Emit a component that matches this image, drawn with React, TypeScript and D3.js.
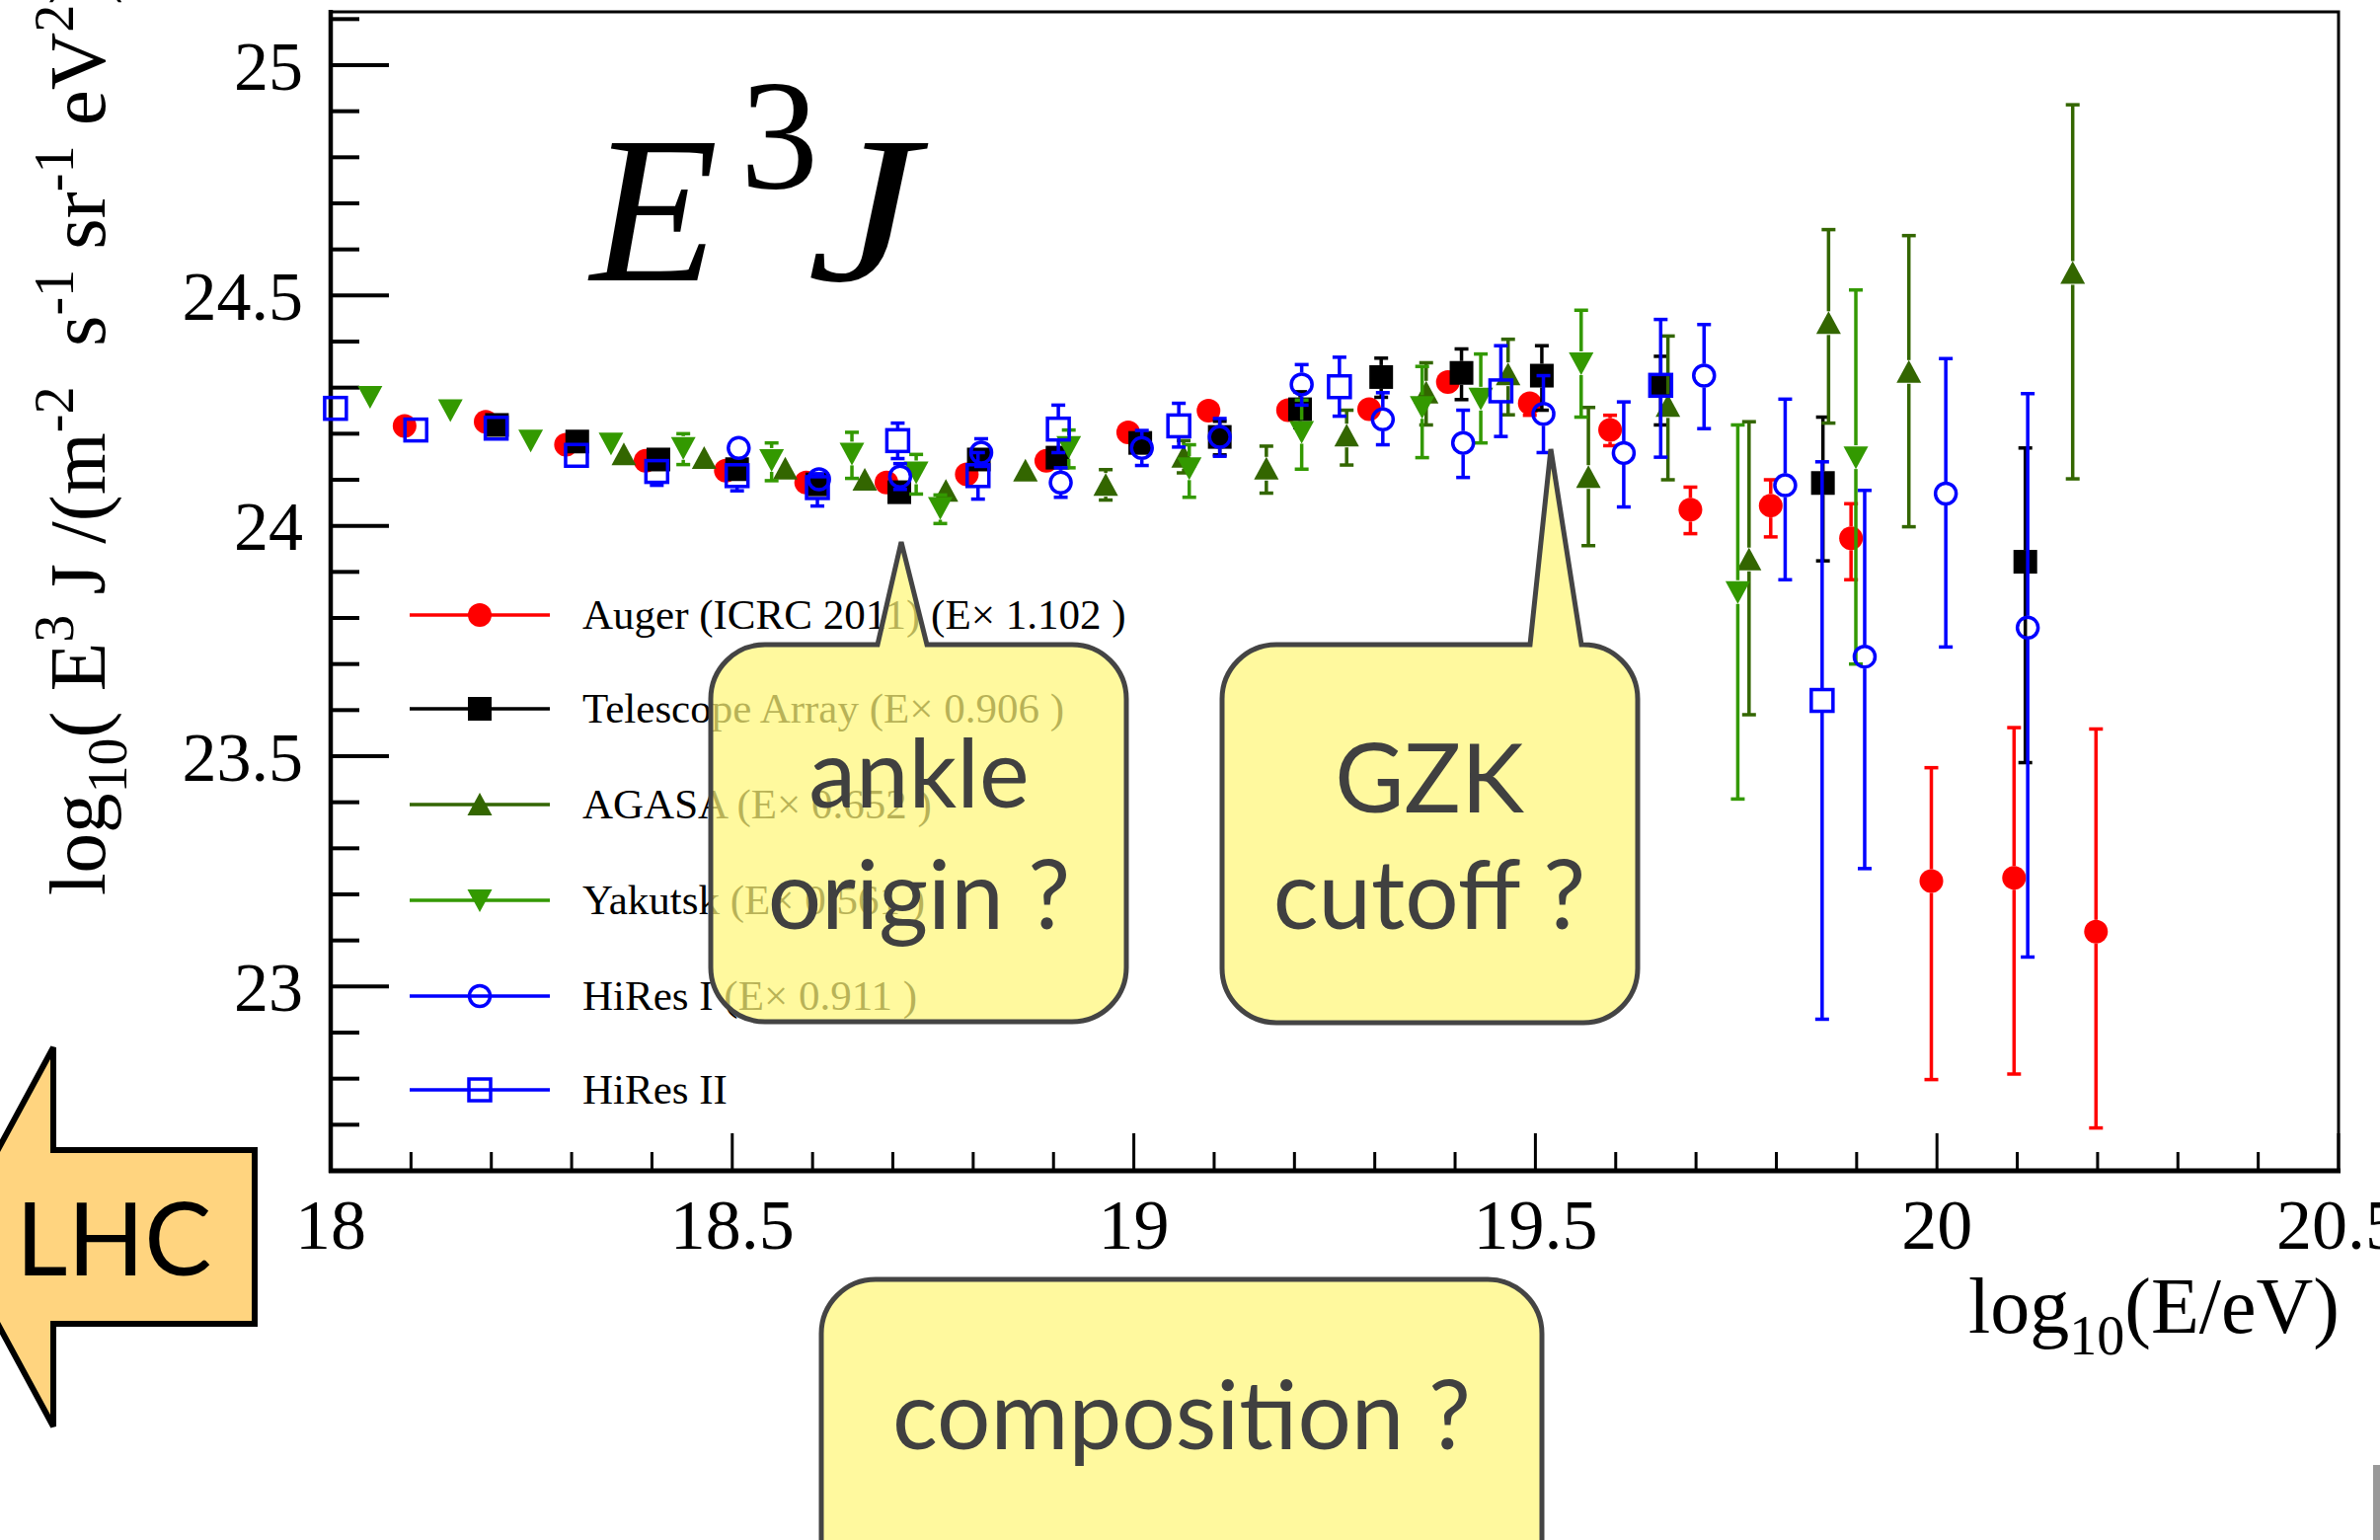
import React from 'react';
import * as d3 from 'd3';

// [log10(E/eV), log10(E^3 J), errDown, errUp]
const auger = [
  [18.092, 24.217, 0.008, 0.008], [18.193, 24.226, 0.008, 0.008], [18.293, 24.176, 0.008, 0.008],
  [18.392, 24.141, 0.008, 0.008], [18.492, 24.12, 0.008, 0.008], [18.592, 24.094, 0.009, 0.009],
  [18.692, 24.094, 0.01, 0.01], [18.792, 24.112, 0.011, 0.011], [18.891, 24.141, 0.012, 0.012],
  [18.993, 24.203, 0.013, 0.013], [19.093, 24.25, 0.015, 0.015], [19.192, 24.251, 0.017, 0.017],
  [19.293, 24.253, 0.019, 0.019], [19.391, 24.312, 0.022, 0.021], [19.493, 24.266, 0.026, 0.025],
  [19.593, 24.208, 0.034, 0.032], [19.693, 24.035, 0.052, 0.049], [19.793, 24.044, 0.068, 0.056],
  [19.893, 23.973, 0.09, 0.075], [19.993, 23.229, 0.431, 0.246], [20.096, 23.236, 0.426, 0.326],
  [20.198, 23.119, 0.426, 0.44],
];

const telescopeArray = [
  [18.207, 24.219, 0.008, 0.008], [18.307, 24.183, 0.008, 0.008], [18.408, 24.144, 0.009, 0.009],
  [18.506, 24.123, 0.01, 0.01], [18.606, 24.09, 0.011, 0.011], [18.708, 24.073, 0.012, 0.012],
  [18.807, 24.144, 0.014, 0.014], [18.905, 24.148, 0.016, 0.016], [19.008, 24.18, 0.02, 0.02],
  [19.107, 24.193, 0.039, 0.034], [19.207, 24.253, 0.04, 0.038], [19.308, 24.323, 0.044, 0.041],
  [19.408, 24.332, 0.058, 0.052], [19.508, 24.326, 0.075, 0.065], [19.656, 24.305, 0.086, 0.063],
  [19.858, 24.093, 0.169, 0.143], [20.11, 23.922, 0.436, 0.247],
];

const agasa = [
  [18.365, 24.155, 0.01, 0.01], [18.465, 24.147, 0.01, 0.01], [18.566, 24.124, 0.012, 0.012],
  [18.665, 24.1, 0.014, 0.014], [18.766, 24.076, 0.018, 0.018], [18.865, 24.12, 0.022, 0.022],
  [18.965, 24.089, 0.033, 0.033], [19.062, 24.15, 0.035, 0.035], [19.165, 24.124, 0.053, 0.049],
  [19.265, 24.196, 0.064, 0.055], [19.364, 24.289, 0.07, 0.065], [19.466, 24.329, 0.088, 0.076],
  [19.566, 24.106, 0.149, 0.151], [19.665, 24.26, 0.16, 0.152], [19.766, 23.927, 0.337, 0.299],
  [19.865, 24.44, 0.217, 0.203], [19.965, 24.334, 0.336, 0.296], [20.169, 24.549, 0.447, 0.365],
];

const yakutsk = [
  [18.049, 24.28, 0.008, 0.008], [18.149, 24.251, 0.008, 0.008], [18.249, 24.185, 0.009, 0.009],
  [18.349, 24.179, 0.01, 0.01], [18.439, 24.169, 0.036, 0.031], [18.549, 24.143, 0.045, 0.037],
  [18.649, 24.157, 0.054, 0.046], [18.729, 24.116, 0.047, 0.039], [18.759, 24.039, 0.034, 0.028],
  [18.919, 24.171, 0.045, 0.037], [19.069, 24.125, 0.063, 0.051], [19.209, 24.204, 0.081, 0.069],
  [19.359, 24.258, 0.11, 0.088], [19.432, 24.276, 0.096, 0.097], [19.557, 24.353, 0.117, 0.115],
  [19.752, 23.856, 0.449, 0.363], [19.899, 24.149, 0.449, 0.363],
];

const hiresI = [
  [18.508, 24.169, 0.015, 0.015], [18.608, 24.101, 0.02, 0.02], [18.709, 24.107, 0.028, 0.028],
  [18.81, 24.159, 0.03, 0.03], [18.909, 24.094, 0.032, 0.032], [19.01, 24.169, 0.038, 0.038],
  [19.107, 24.193, 0.042, 0.04], [19.209, 24.307, 0.045, 0.043], [19.31, 24.231, 0.055, 0.058],
  [19.41, 24.18, 0.075, 0.071], [19.51, 24.243, 0.084, 0.083], [19.61, 24.158, 0.117, 0.111],
  [19.71, 24.326, 0.115, 0.111], [19.811, 24.088, 0.205, 0.187], [19.91, 23.716, 0.46, 0.361],
  [20.011, 24.07, 0.333, 0.293], [20.113, 23.779, 0.715, 0.508],
];

const hiresII = [
  [18.006, 24.255, 0.012, 0.012], [18.106, 24.208, 0.014, 0.014], [18.206, 24.212, 0.016, 0.016],
  [18.306, 24.153, 0.02, 0.02], [18.406, 24.118, 0.03, 0.022], [18.506, 24.109, 0.033, 0.025],
  [18.606, 24.083, 0.04, 0.03], [18.706, 24.185, 0.039, 0.038], [18.806, 24.109, 0.051, 0.05],
  [18.906, 24.21, 0.051, 0.052], [19.056, 24.217, 0.046, 0.049], [19.256, 24.302, 0.064, 0.064],
  [19.457, 24.293, 0.099, 0.098], [19.656, 24.305, 0.156, 0.143], [19.857, 23.621, 0.692, 0.518],
];

const series = [
  { label: 'Auger (ICRC 2011) (E\u00d7 1.102 )', data: auger, color: '#ff0000', marker: 'circle' },
  { label: 'Telescope Array (E\u00d7 0.906 )', data: telescopeArray, color: '#000000', marker: 'square' },
  { label: 'AGASA (E\u00d7 0.652 )', data: agasa, color: '#336600', marker: 'up' },
  { label: 'Yakutsk (E\u00d7 0.561 )', data: yakutsk, color: '#339900', marker: 'down' },
  { label: 'HiRes I (E\u00d7 0.911 )', data: hiresI, color: '#0000ff', marker: 'opencircle' },
  { label: 'HiRes II', data: hiresII, color: '#0000ff', marker: 'opensquare' },
];

const xMajor = [18, 18.5, 19, 19.5, 20, 20.5];
const xMajorLabels = ['18', '18.5', '19', '19.5', '20', '20.5'];
const yMajor = [23, 23.5, 24, 24.5, 25];
const yMajorLabels = ['23', '23.5', '24', '24.5', '25'];

const W = 2411;
const H = 1560;
const serif = '"Liberation Serif", "Times New Roman", serif';
const sans = 'Lato, "Open Sans", sans-serif';

const x = d3.scaleLinear().domain([18, 20.5]).range([335, 2369]);
const y = d3.scaleLinear().domain([22.6, 25.12]).range([1186, 10]);

const HALF = 12;

function Marker({ type, cx, cy, color }) {
  if (type === 'circle') return <circle cx={cx} cy={cy} r={12} fill={color} />;
  if (type === 'square') return <rect x={cx - 12} y={cy - 12} width={24} height={24} fill={color} />;
  if (type === 'up')
    return <polygon points={`${cx},${cy - 12} ${cx + 12.5},${cy + 11} ${cx - 12.5},${cy + 11}`} fill={color} />;
  if (type === 'down')
    return <polygon points={`${cx},${cy + 12} ${cx + 12.5},${cy - 11} ${cx - 12.5},${cy - 11}`} fill={color} />;
  if (type === 'opencircle')
    return <circle cx={cx} cy={cy} r={10.5} fill="none" stroke={color} strokeWidth={3.5} />;
  return <rect x={cx - 11} y={cy - 11} width={22} height={22} fill="none" stroke={color} strokeWidth={3.5} />;
}

function ErrorBar({ d, color }) {
  const cx = x(d[0]);
  const cy = y(d[1]);
  const top = y(d[1] + d[3]);
  const bot = y(d[1] - d[2]);
  const parts = [];
  if (cy - HALF > top) {
    parts.push(<line key="t" x1={cx} x2={cx} y1={top} y2={cy - HALF} />);
    parts.push(<line key="tc" x1={cx - 7} x2={cx + 7} y1={top} y2={top} />);
  }
  if (bot > cy + HALF) {
    parts.push(<line key="b" x1={cx} x2={cx} y1={cy + HALF} y2={bot} />);
    parts.push(<line key="bc" x1={cx - 7} x2={cx + 7} y1={bot} y2={bot} />);
  }
  return <g stroke={color} strokeWidth={3.5}>{parts}</g>;
}

function bubblePath(x0, y0, x1, y1, r, ptr) {
  const p = d3.path();
  p.moveTo(x0 + r, y0);
  if (ptr) {
    p.lineTo(ptr[0], y0);
    p.lineTo(ptr[2], ptr[3]);
    p.lineTo(ptr[1], y0);
  }
  p.arcTo(x1, y0, x1, y0 + r, r);
  p.arcTo(x1, y1, x1 - r, y1, r);
  p.arcTo(x0, y1, x0, y1 - r, r);
  p.arcTo(x0, y0, x0 + r, y0, r);
  p.closePath();
  return p.toString();
}

export default function App() {
  const yMinor = d3.range(22.7, 25.11, 0.1).filter((v) => !yMajor.some((m) => Math.abs(m - v) < 1e-6));
  const xMinor = d3.range(18.1, 20.5, 0.1).filter((v) => !xMajor.some((m) => Math.abs(m - v) < 1e-6));
  const legendRows = [623, 718, 815, 912, 1009, 1104];
  const bubbleFill = '#fff779';

  return (
    <svg width={W} height={H} style={{ display: 'block', position: 'absolute', left: 0, top: 0 }}>
      <rect width={W} height={H} fill="#ffffff" />

      {/* frame */}
      <rect x={335} y={12} width={2034} height={1174} fill="none" stroke="#000" strokeWidth={3} />
      <line x1={335} x2={335} y1={10} y2={1188} stroke="#000" strokeWidth={4.5} />
      <line x1={333} x2={2371} y1={1186} y2={1186} stroke="#000" strokeWidth={5} />

      {/* y ticks */}
      {yMajor.map((v) => (
        <line key={'ym' + v} x1={335} x2={394} y1={y(v)} y2={y(v)} stroke="#000" strokeWidth={4} />
      ))}
      {yMinor.map((v) => (
        <line key={'yn' + v} x1={335} x2={364} y1={y(v)} y2={y(v)} stroke="#000" strokeWidth={4} />
      ))}
      {yMajor.map((v, i) => (
        <text key={'yl' + v} x={307} y={y(v)} dy="0.35em" textAnchor="end" fontFamily={serif} fontSize={70}>
          {yMajorLabels[i]}
        </text>
      ))}

      {/* x ticks */}
      {xMajor.map((v) => (
        <line key={'xm' + v} x1={x(v)} x2={x(v)} y1={1186} y2={1148} stroke="#000" strokeWidth={3} />
      ))}
      {xMinor.map((v) => (
        <line key={'xn' + v} x1={x(v)} x2={x(v)} y1={1186} y2={1167} stroke="#000" strokeWidth={3} />
      ))}
      {xMajor.map((v, i) => (
        <text key={'xl' + v} x={x(v)} y={1265} textAnchor="middle" fontFamily={serif} fontSize={72}>
          {xMajorLabels[i]}
        </text>
      ))}

      {/* axis titles */}
      <text x={2370} y={1350} textAnchor="end" fontFamily={serif} fontSize={80}>
        log<tspan fontSize={56} dy={22}>10</tspan>
        <tspan dy={-22}>(E/eV)</tspan>
      </text>
      <text
        transform="translate(106,907) rotate(-90)"
        fontFamily={serif}
        fontSize={81}
        style={{ whiteSpace: 'pre' }}
      >
        log<tspan fontSize={56} dy={22}>10</tspan>
        <tspan dy={-22}>( E</tspan>
        <tspan fontSize={56} dy={-32}>3</tspan>
        <tspan dy={32}> J /(m</tspan>
        <tspan fontSize={56} dy={-32}>-2</tspan>
        <tspan dy={32}>  s</tspan>
        <tspan fontSize={56} dy={-32}>-1</tspan>
        <tspan dy={32}> sr</tspan>
        <tspan fontSize={56} dy={-32}>-1</tspan>
        <tspan dy={32}> eV</tspan>
        <tspan fontSize={56} dy={-32}>2</tspan>
        <tspan dy={32}>)</tspan>
      </text>

      {/* data */}
      {series.map((s) => (
        <g key={s.label}>
          {s.data.map((d, i) => (
            <ErrorBar key={'e' + i} d={d} color={s.color} />
          ))}
          {s.data.map((d, i) => (
            <Marker key={'m' + i} type={s.marker} cx={x(d[0])} cy={y(d[1])} color={s.color} />
          ))}
        </g>
      ))}

      {/* legend */}
      {series.map((s, i) => (
        <g key={'lg' + i}>
          <line x1={415} x2={557} y1={legendRows[i]} y2={legendRows[i]} stroke={s.color} strokeWidth={3.5} />
          <Marker type={s.marker} cx={486} cy={legendRows[i]} color={s.color} />
          <text x={590} y={legendRows[i] + 14} fontFamily={serif} fontSize={43}>
            {s.label}
          </text>
        </g>
      ))}

      {/* E^3 J */}
      <text x={598} y={284} fontFamily={serif} fontStyle="italic" fontSize={212}>E</text>
      <text x={750} y={190} fontFamily={serif} fontSize={158}>3</text>
      <text x={818} y={284} fontFamily={serif} fontStyle="italic" fontSize={212} transform="translate(-164,0) scale(1.2,1)">J</text>

      {/* callouts */}
      <path
        d={bubblePath(720, 653, 1141, 1035, 55, [889, 939, 913, 549])}
        fill={bubbleFill}
        fillOpacity={0.72}
        stroke="#444444"
        strokeWidth={5}
      />
      <text x={931} y={818} textAnchor="middle" fontFamily={sans} fontSize={96} fill="#404040">ankle</text>
      <text x={931} y={941} textAnchor="middle" fontFamily={sans} fontSize={96} fill="#404040">origin ?</text>

      <path
        d={bubblePath(1238, 653, 1659, 1036, 55, [1550, 1602, 1571, 455])}
        fill={bubbleFill}
        fillOpacity={0.72}
        stroke="#444444"
        strokeWidth={5}
      />
      <text x={1448} y={823} textAnchor="middle" fontFamily={sans} fontSize={96} fill="#404040">GZK</text>
      <text x={1448} y={941} textAnchor="middle" fontFamily={sans} fontSize={96} fill="#404040">cutoff ?</text>

      <path
        d={bubblePath(832, 1296, 1562, 1640, 55, null)}
        fill={bubbleFill}
        fillOpacity={0.72}
        stroke="#444444"
        strokeWidth={5}
      />
      <text x={1197} y={1468} textAnchor="middle" fontFamily={sans} fontSize={96} fill="#404040">composition ?</text>

      {/* LHC arrow */}
      <path
        d="M258,1165 L54,1165 L54,1061 L-50,1253 L54,1445 L54,1341 L258,1341 Z"
        fill="#ffd47f"
        stroke="#000"
        strokeWidth={6}
      />
      <text x={16} y={1292} fontFamily={sans} fontSize={102} fill="#000">LHC</text>

      <rect x={2404} y={1484} width={7} height={76} fill="#999999" />
    </svg>
  );
}
